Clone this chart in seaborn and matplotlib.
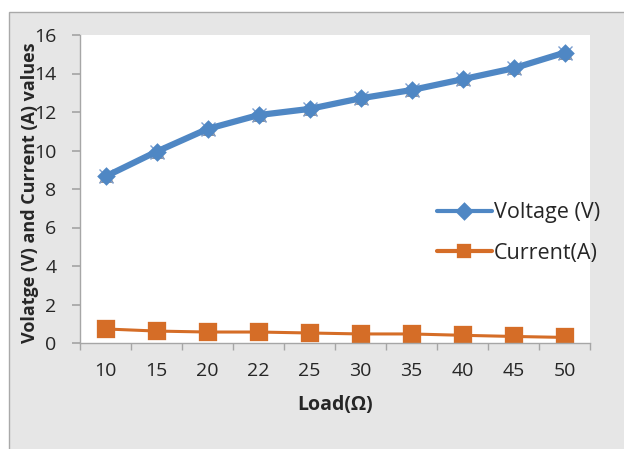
import matplotlib
matplotlib.use("Agg")
import matplotlib.pyplot as plt
import matplotlib.patches as mpatches
from matplotlib.ticker import MultipleLocator, FixedLocator
import numpy as np
import pandas as pd
import seaborn as sns

# データ
loads = ["10", "15", "20", "22", "25", "30", "35", "40", "45", "50"]
voltage = [8.65, 9.94, 11.12, 11.84, 12.16, 12.71, 13.14, 13.70, 14.27, 15.08]
current = [0.73, 0.62, 0.57, 0.57, 0.52, 0.47, 0.47, 0.40, 0.34, 0.29]

blue = "#4f87c4"
orange = "#d56d27"
text_col = "#262626"

sns.set_theme(style="white")
plt.rcParams["font.family"] = ["Open Sans", "DejaVu Sans"]

df = pd.DataFrame({"Load": loads, "Voltage": voltage, "Current": current})

fig = plt.figure(figsize=(6.24, 4.49), dpi=100, facecolor="white")

# 外枠 (灰色の背景)
bg = mpatches.Rectangle((9 / 624, -0.01), 1.0, (449 - 12) / 449 + 0.01,
                        transform=fig.transFigure, facecolor="#e6e6e6",
                        edgecolor="#a9a9a9", linewidth=1.0, zorder=-10)
fig.patches.append(bg)

ax = fig.add_axes([80 / 624, (449 - 343) / 449, 510 / 624, 308 / 449])
ax.set_facecolor("white")
ax.set_zorder(1)

# 電圧の点の後ろに見える灰色の三角と x
sns.pointplot(data=df, x="Load", y="Voltage", ax=ax, color="#8a8a8a",
              markers="^", linestyle="none", markersize=7)
sns.pointplot(data=df, x="Load", y="Voltage", ax=ax, color="#7d9fd0",
              markers="x", linestyle="none", markersize=10,
              markeredgewidth=1.0)
sns.pointplot(data=df, x="Load", y="Voltage", ax=ax, color=blue,
              markers="D", linewidth=4.5, markersize=6.5, label="Voltage (V)")
sns.pointplot(data=df, x="Load", y="Current", ax=ax, color=orange,
              markers="s", linewidth=2.2, markersize=12, label="Current(A)")

handles, labels = ax.get_legend_handles_labels()
if ax.get_legend() is not None:
    ax.get_legend().remove()

ax.set_ylim(0, 16)
ax.set_xlim(-0.5, len(loads) - 0.5)
ax.yaxis.set_major_locator(MultipleLocator(2))
ax.set_xlabel("")
ax.set_ylabel("")

for s in ["top", "right"]:
    ax.spines[s].set_visible(False)
for s in ["left", "bottom"]:
    ax.spines[s].set_color("#a6a6a6")
    ax.spines[s].set_linewidth(1.0)

ax.tick_params(axis="x", which="major", length=0, labelsize=14,
               labelcolor=text_col, pad=14)
ax.xaxis.set_minor_locator(FixedLocator(np.arange(-0.5, len(loads), 1.0)))
ax.tick_params(axis="x", which="minor", length=5, color="#a6a6a6",
               direction="out", bottom=True)
ax.tick_params(axis="y", which="major", length=6, color="#a6a6a6",
               direction="out", left=True, labelsize=14, labelcolor=text_col,
               pad=11)

fig.text(335 / 624, 1 - 405 / 449, "Load(Ω)", ha="center", va="center",
         fontsize=14, fontweight="bold", color=text_col, zorder=5)
fig.text(30 / 624, 1 - 193 / 449, "Volatge (V) and Current (A) values",
         rotation=90, ha="center", va="center", fontsize=13,
         fontweight="bold", color=text_col, zorder=5)

leg = fig.legend(handles, labels, loc="center left",
                 bbox_to_anchor=(437 / 624, 1 - 233 / 449), frameon=False,
                 fontsize=15.5, handlelength=2.55, handletextpad=0.1,
                 labelspacing=0.9, borderaxespad=0, borderpad=0)
leg.set_zorder(5)
for t in leg.get_texts():
    t.set_color(text_col)
for h, ms in zip(leg.legend_handles, [6, 9]):
    h.set_linewidth(3)
    h.set_markersize(ms)

fig.savefig("out.png", dpi=100, facecolor=fig.get_facecolor())
